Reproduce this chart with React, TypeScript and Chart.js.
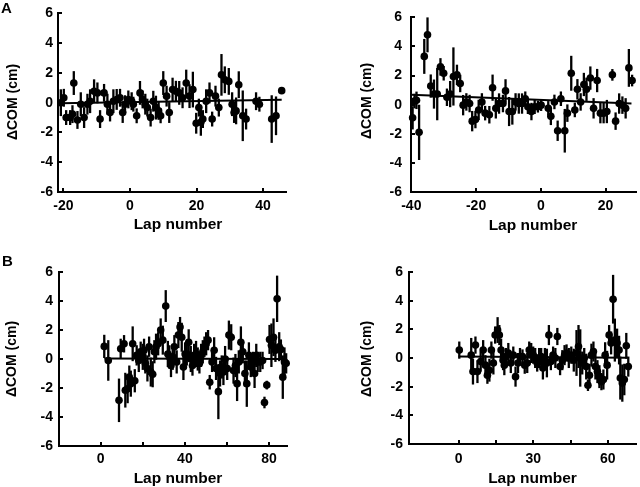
import React, { useEffect, useRef } from 'react';
import { Chart, registerables } from 'chart.js';

Chart.register(...registerables);

const FONT = 'Arial, "Liberation Sans", Helvetica, sans-serif';

// ---------- Panel A (left) ----------
const lapsA1 = [
  -20.8, -19.9, -19.2, -18, -17.3, -16.9, -15.8, -14.8, -13.8, -12.8,
  -12, -10.8, -9.8, -9, -7.8, -6.8, -6, -5, -4, -3,
  -2.2, -1.5, -0.5, 0.5, 1, 2, 3, 3.8, 4.6, 5.2,
  6.2, 7, 7.8, 8.6, 9.2, 10, 11, 11.8, 12.8, 13.8,
  14.8, 15.8, 16.9, 17.9, 18.9, 19.9, 20.7, 21.3, 21.9, 22.9,
  23.9, 24.7, 25.7, 26.7, 27.5, 28.5, 29.7, 30.7, 31.3, 31.9,
  32.7, 33.9, 34.9, 37.9, 38.9, 42.6, 43.9, 45.6,
];
const comA1 = [
  0.0, 0.33, -1.0, -1.0, -0.77, 1.32, -1.16, -0.1, -1.0, -0.1,
  0.1, 0.77, 0.66, -1.1, 0.66, -0.1, -0.66, 0.1, 0.22, 0.33,
  -0.66, -0.1, 0.22, 0.1, -0.1, -0.88, 0.66, 0.22, -0.1, -0.33,
  -1.0, 0.1, -0.33, -0.55, -0.88, 1.32, 0.44, -0.66, 0.88, 0.77,
  0.66, 0.33, 1.32, 0.44, 0.88, -1.38, -0.33, -1.32, -1.1, 0.1,
  0.66, -1.1, 0.44, -0.33, 1.87, 1.54, 1.43, -0.1, -0.66, -0.55,
  1.21, -0.88, -1.1, 0.1, -0.1, -1.1, -0.88, 0.81,
];
const errA1 = [
  0.9, 0.6, 0.5, 0.5, 0.6, 0.8, 0.6, 0.8, 0.7, 0.7,
  0.8, 0.8, 0.7, 0.6, 0.6, 0.7, 0.6, 0.8, 0.7, 0.6,
  0.7, 0.6, 0.6, 0.6, 0.5, 0.5, 0.8, 0.6, 0.7, 0.6,
  0.6, 0.7, 0.8, 0.6, 0.5, 0.8, 0.7, 0.7, 0.8, 0.7,
  0.8, 0.7, 0.9, 0.8, 1.2, 0.7, 0.6, 0.9, 0.6, 0.8,
  0.7, 0.5, 0.7, 0.6, 1.4, 0.9, 0.9, 0.8, 0.7, 0.9,
  0.9, 1.7, 0.7, 0.6, 0.5, 1.6, 1.3, 0,
];
const fitLapsA1 = [-21, 45.6];
const fitComA1 = [-0.03, 0.2];
const xTicksA1 = [-20, 0, 20, 40];

// ---------- Panel A (right) ----------
const lapsA2 = [
  -39.6, -39, -38.4, -37.6, -36, -35, -34, -33, -32, -31,
  -30, -29, -28, -27, -25.9, -24.9, -24, -23, -22, -21.2,
  -20.2, -19.2, -18.2, -17.2, -15.9, -14.9, -13.9, -12.9, -11.7, -10.9,
  -9.8, -8.8, -7.8, -6.8, -5.8, -4.8, -4, -2.9, -1.9, -0.9,
  0.1, 2.3, 3.1, 4.2, 5.2, 6.2, 7.4, 8.2, 9.4, 10.5,
  11.3, 12.3, 13.3, 14.1, 15.3, 16.3, 17.4, 18.4, 19.4, 20.4,
  22.1, 23.1, 24.2, 25.2, 26.2, 27.2, 28.2,
];
const comA2 = [
  -0.9, 0.25, 0.3, -1.9, 3.32, 4.8, 1.28, 0.73, 0.73, 2.6,
  2.16, 0.51, 0.73, 1.94, 2.05, 1.46, -0.03, 0.19, 0.08, -1.13,
  -1.02, -0.36, 0.19, -0.58, -0.69, 1.17, -0.25, 0.08, 0.08, 0.95,
  -0.47, -0.47, 0.19, 0.08, 0.08, 0.41, -0.14, -0.47, -0.14, -0.14,
  -0.03, -0.25, -0.8, 0.19, -1.79, 0.41, -1.79, -0.58, 2.16, -0.36,
  1.06, 0.19, 1.39, 1.06, 1.83, -0.25, 1.66, -0.58, -0.58, -0.47,
  2.05, -1.13, 0.08, -0.03, -0.25, 2.53, 1.66,
];
const errA2 = [
  0.8, 0.5, 0.6, 1.9, 1.2, 1.2, 0.8, 1.0, 1.8, 0.6,
  0.5, 0.6, 0.9, 2.0, 0.7, 0.6, 0.7, 0.6, 0.6, 0.7,
  0.6, 0.7, 0.6, 0.5, 0.6, 0.9, 0.7, 0.7, 0.6, 0.8,
  1.0, 0.9, 0.6, 0.7, 0.7, 0.5, 0.5, 0.6, 0.5, 0.4,
  0.4, 0.5, 0.6, 0.5, 0.7, 0.5, 1.5, 0.6, 1.2, 0.5,
  0.7, 0.6, 0.8, 0.8, 0.8, 0.7, 0.8, 0.7, 0.7, 0.8,
  0.4, 0.6, 0.7, 0.6, 0.7, 1.3, 0.4,
];
const fitLapsA2 = [-40, 28];
const fitComA2 = [0.69, 0.08];
const xTicksA2 = [-40, -20, 0, 20];

// ---------- Panel B (left) ----------
const lapsB1 = [
  1.7, 3.6, 8.7, 9.5, 11.1, 11.7, 12.8, 13.6, 14.3, 15.2,
  16.2, 17.1, 18.1, 19, 20, 20.6, 21.2, 22.2, 23, 23.8,
  24.7, 25.5, 26.3, 27.3, 28.5, 29.5, 30.9, 31.9, 32.6, 33.4,
  34.2, 35, 36.1, 36.9, 37.7, 38.5, 39.3, 40.1, 40.9, 41.8,
  42.8, 43.6, 44.4, 45.3, 46.1, 46.9, 47.7, 48.5, 49.3, 50.1,
  51, 51.8, 52.9, 53.9, 54.8, 55.9, 56.7, 57.5, 58.3, 59.1,
  60.1, 60.9, 62, 63.1, 64, 64.8, 65.6, 66.6, 67.5, 68.5,
  69.4, 70.4, 71.3, 72.3, 73.1, 73.9, 74.6, 75.8, 76.9, 77.8,
  78.9, 80.2, 81.1, 82.1, 83, 83.8, 84.8, 85.6, 86.5, 87.3,
  88.1,
];
const comB1 = [
  0.87, -0.1, -2.85, 0.7, 1.05, -2.15, -2.05, -1.25, -1.7, 1.05,
  -1.5, 0.25, -0.1, 0.5, 0.15, 0.6, -0.3, -0.65, 0.85, -0.9,
  -1.05, 0.5, 0.85, 1.05, 2.0, 1.3, 3.65, 0.35, 0.15, -0.45,
  0.15, 0.85, -0.2, 1.65, 2.2, 1.5, -0.55, 0.35, 0.35, 1.15,
  0, -0.45, 0.25, 0.35, 0, -0.3, 0.25, 0.5, 0.85, 1.05,
  1.3, -1.6, -0.2, 0.6, -0.65, -2.25, -1.0, -0.55, -0.9, 0,
  -0.65, 1.65, 1.5, -0.8, -0.45, -1.7, -0.2, 1.15, 0.5, -1.0,
  -1.7, 0.25, -0.55, -0.2, -1.0, 0.25, -0.2, -0.2, -0.1, -3.0,
  -1.8, 1.35, 0.95, 1.5, 0.6, 4.15, 0.85, 0.65, -1.25, -0.2,
  -0.3,
];
const errB1 = [
  0.8, 1.4, 1.5, 0.7, 0.6, 1.2, 1.0, 0.8, 0.9, 1.2,
  0.8, 0.7, 0.8, 0.7, 0.9, 0.8, 0.7, 0.9, 0.7, 1.0,
  0.9, 0.8, 0.9, 0.8, 0.8, 1.0, 1.1, 0.9, 0.8, 0.8,
  0.9, 0.8, 0.8, 0.9, 0.7, 1.0, 0.9, 0.8, 0.8, 0.9,
  0.9, 0.7, 0.8, 0.9, 0.8, 0.7, 0.8, 0.8, 0.7, 0.8,
  0.7, 0.5, 0.7, 0.9, 0.8, 1.9, 0.9, 0.8, 0.9, 0.9,
  0.8, 1.0, 0.9, 0.9, 0.8, 1.2, 0.8, 1.1, 0.8, 0.9,
  1.6, 0.9, 0.7, 0.7, 1.0, 0.8, 0.7, 0.7, 0.6, 0.4,
  0.3, 1.0, 1.5, 1.3, 0.8, 1.6, 1.0, 0.7, 1.5, 1.0,
  0.7,
];
const fitLapsB1 = [1.7, 88];
const fitComB1 = [0.03, 0.0];
const xTicksB1 = [0, 20, 40, 60, 80];
const xLabelsB1 = [0, 40, 80];

// ---------- Panel B (right) ----------
const lapsB2 = [
  0.3, 5.1, 5.8, 6.8, 7.6, 8.9, 9.9, 10.8, 11.6, 12.4,
  13.2, 14, 14.7, 15.7, 16.4, 17.1, 17.9, 18.4, 19.1, 20,
  21, 22, 22.9, 23.9, 24.7, 25.7, 26.6, 27.6, 28.4, 29.2,
  30, 30.8, 31.6, 32.4, 33.2, 33.9, 34.7, 35.5, 36.3, 37.1,
  38, 38.9, 39.7, 40.8, 41.7, 42.6, 43.4, 44.3, 45.3, 46.3,
  47.4, 48.2, 48.9, 49.7, 50.5, 51.3, 52, 52.6, 53.4, 54.2,
  55, 55.8, 56.6, 57.4, 58.2, 58.9, 59.7, 60.5, 61.3, 62.1,
  62.8, 63.7, 64.5, 65, 65.8, 66.6, 67.4, 68.2,
];
const comB2 = [
  0.55, 0.2, -0.95, 0.9, -0.95, -0.25, 0.55, -0.5, -1.2, -0.85,
  0.55, -0.35, 1.6, 1.95, 1.6, 0.55, -0.15, -0.5, 0.1, 0.35,
  -0.35, 0.2, -1.3, -0.35, 0.1, 0.1, -0.5, -0.35, 0.55, 0.35,
  0.2, 0, -0.35, 0, 0.1, -0.7, 0, -0.35, 1.6, -0.25,
  0.2, 0, 1.5, -0.6, -0.15, 0.2, 0.35, 0, 0.2, -0.15,
  0.35, 0.8, 0, -0.35, 0, -0.6, -1.9, -1.2, 0.2, 0.45,
  -0.6, -0.95, -1.3, -1.65, -1.5, 0.2, -0.5, 1.6, 1.05, 4.1,
  1.25, 1.05, 0.55, -1.4, -1.75, -1.5, 0.85, -0.6,
];
const errB2 = [
  0.6, 1.2, 0.9, 0.6, 0.8, 0.7, 0.7, 0.7, 0.6, 0.8,
  0.6, 0.8, 0.6, 0.9, 0.7, 0.8, 0.7, 0.7, 0.6, 0.7,
  0.7, 0.6, 0.7, 0.7, 0.6, 0.5, 0.6, 0.7, 0.6, 0.7,
  0.6, 0.7, 0.6, 0.7, 0.6, 0.8, 0.7, 1.0, 0.7, 0.6,
  0.6, 0.7, 0.6, 0.6, 0.7, 0.7, 0.6, 0.7, 0.6, 0.8,
  1.6, 1.5, 2.0, 0.8, 0.7, 0.9, 0.4, 0.8, 0.8, 0.7,
  0.9, 0.8, 0.8, 0.6, 0.7, 0.9, 1.0, 0.7, 0.8, 1.7,
  1.5, 1.0, 1.0, 1.5, 1.3, 1.1, 0.9, 0.7,
];
const fitLapsB2 = [0, 68];
const fitComB2 = [0.1, 0.02];
const xTicksB2 = [0, 15, 30, 45, 60];
const xLabelsB2 = [0, 30, 60];

const yTicks = [-6, -4, -2, 0, 2, 4, 6];
const X_TITLE = 'Lap number';
const Y_TITLE = '\u0394COM (cm)';

type PanelDef = {
  laps: number[]; com: number[]; err: number[];
  fitLaps: number[]; fitCom: number[];
  xTicks: number[]; xLabels: number[];
  xMin: number; xMax: number;
  box: { left: number; top: number; w: number; h: number };
  pad: { left: number; right: number; top: number };
  yW: number; xH: number; yTickPad: number; xTickPad: number;
  xTitle: [number, number]; yTitle: [number, number];
};

const PANELS: PanelDef[] = [
  {
    laps: lapsA1, com: comA1, err: errA1, fitLaps: fitLapsA1, fitCom: fitComA1,
    xTicks: xTicksA1, xLabels: xTicksA1, xMin: -21.65, xMax: 46.9,
    box: { left: 0, top: 0, w: 320, h: 240 }, pad: { left: 0, right: 34, top: 11 },
    yW: 58, xH: 48, yTickPad: 5, xTickPad: 6, xTitle: [178, 225], yTitle: [13, 102],
  },
  {
    laps: lapsA2, com: comA2, err: errA2, fitLaps: fitLapsA2, fitCom: fitComA2,
    xTicks: xTicksA2, xLabels: xTicksA2, xMin: -40.1, xMax: 29.4,
    box: { left: 320, top: 0, w: 320, h: 240 }, pad: { left: 0, right: 0, top: 10 },
    yW: 91, xH: 48, yTickPad: 9, xTickPad: 6, xTitle: [213, 225.5], yTitle: [47, 101],
  },
  {
    laps: lapsB1, com: comB1, err: errB1, fitLaps: fitLapsB1, fitCom: fitComB1,
    xTicks: xTicksB1, xLabels: xLabelsB1, xMin: -19.8, xMax: 88.5,
    box: { left: 0, top: 240, w: 320, h: 247 }, pad: { left: 0, right: 33, top: 32 },
    yW: 59, xH: 41, yTickPad: 6, xTickPad: 5, xTitle: [178, 239], yTitle: [12, 119],
  },
  {
    laps: lapsB2, com: comB2, err: errB2, fitLaps: fitLapsB2, fitCom: fitComB2,
    xTicks: xTicksB2, xLabels: xLabelsB2, xMin: -19.9, xMax: 71.3,
    box: { left: 320, top: 240, w: 320, h: 247 }, pad: { left: 0, right: 0, top: 32 },
    yW: 89, xH: 43, yTickPad: 6, xTickPad: 7, xTitle: [212.5, 239], yTitle: [47.5, 119],
  },
];

const errorBarPlugin = {
  id: 'errorBars',
  beforeDatasetsDraw(chart: any, _args: any, opts: any) {
    const { ctx, scales } = chart;
    const xs = scales.x, ys = scales.y;
    const errs: number[] = opts.errors || [];
    const pts = chart.data.datasets[0].data;
    ctx.save();
    ctx.strokeStyle = '#000';
    ctx.lineWidth = 2.3;
    pts.forEach((p: any, i: number) => {
      const e = errs[i];
      if (!e) return;
      const px = xs.getPixelForValue(p.x);
      ctx.beginPath();
      ctx.moveTo(px, ys.getPixelForValue(p.y - e));
      ctx.lineTo(px, ys.getPixelForValue(p.y + e));
      ctx.stroke();
    });
    ctx.restore();
  },
};

const decorPlugin = {
  id: 'decor',
  afterDraw(chart: any, _args: any, opts: any) {
    const { ctx, scales, chartArea } = chart;
    ctx.save();
    ctx.strokeStyle = '#000';
    ctx.lineWidth = 2;
    // inward tick marks
    scales.x.ticks.forEach((t: any) => {
      const px = Math.round(scales.x.getPixelForValue(t.value));
      ctx.beginPath();
      ctx.moveTo(px, chartArea.bottom);
      ctx.lineTo(px, chartArea.bottom - 4);
      ctx.stroke();
    });
    scales.y.ticks.forEach((t: any) => {
      const py = Math.round(scales.y.getPixelForValue(t.value));
      ctx.beginPath();
      ctx.moveTo(chartArea.left, py);
      ctx.lineTo(chartArea.left + 4, py);
      ctx.stroke();
    });
    // axis titles
    ctx.fillStyle = '#000';
    ctx.textAlign = 'center';
    ctx.textBaseline = 'middle';
    ctx.font = `bold 15.5px ${FONT}`;
    ctx.fillText(opts.xText, opts.xTitle[0], opts.xTitle[1]);
    ctx.font = `bold 14px ${FONT}`;
    ctx.translate(opts.yTitle[0], opts.yTitle[1]);
    ctx.rotate(-Math.PI / 2);
    ctx.fillText(opts.yText, 0, 0);
    ctx.restore();
  },
};

function Panel({ def }: { def: PanelDef }) {
  const ref = useRef<HTMLCanvasElement | null>(null);
  useEffect(() => {
    if (!ref.current) return;
    const tickFont = { family: FONT, size: 14, weight: 'bold' as const };
    const chart = new Chart(ref.current, {
      type: 'scatter',
      data: {
        datasets: [
          {
            data: def.laps.map((l, i) => ({ x: l, y: def.com[i] })),
            pointRadius: 3.8,
            pointBackgroundColor: '#000',
            pointBorderColor: '#000',
            pointBorderWidth: 0,
            clip: false as any,
          },
          {
            type: 'line' as any,
            data: def.fitLaps.map((l, i) => ({ x: l, y: def.fitCom[i] })),
            borderColor: '#000',
            borderWidth: 2,
            pointRadius: 0,
            showLine: true,
            fill: false,
            clip: false as any,
          } as any,
        ],
      },
      options: {
        animation: false,
        responsive: false,
        maintainAspectRatio: false,
        events: [],
        layout: { padding: { left: def.pad.left, right: def.pad.right, top: def.pad.top, bottom: 0 } },
        plugins: {
          legend: { display: false },
          tooltip: { enabled: false },
          errorBars: { errors: def.err },
          decor: { xText: X_TITLE, yText: Y_TITLE, xTitle: def.xTitle, yTitle: def.yTitle },
        } as any,
        scales: {
          x: {
            type: 'linear',
            min: def.xMin,
            max: def.xMax,
            afterBuildTicks: (s: any) => { s.ticks = def.xTicks.map((v) => ({ value: v })); },
            afterFit: (s: any) => { s.height = def.xH; },
            grid: { display: false, drawTicks: false },
            border: { display: true, color: '#000', width: 2 },
            ticks: {
              font: tickFont, color: '#000', padding: def.xTickPad, maxRotation: 0, autoSkip: false,
              callback: (v: any) => (def.xLabels.includes(Number(v)) ? String(v) : ''),
            },
          },
          y: {
            type: 'linear',
            min: -6,
            max: 6,
            afterBuildTicks: (s: any) => { s.ticks = yTicks.map((v) => ({ value: v })); },
            afterFit: (s: any) => { s.width = def.yW; },
            grid: { display: false, drawTicks: false },
            border: { display: true, color: '#000', width: 2 },
            ticks: { font: tickFont, color: '#000', padding: def.yTickPad, autoSkip: false },
          },
        },
      },
      plugins: [errorBarPlugin, decorPlugin],
    } as any);
    return () => chart.destroy();
  }, [def]);
  return (
    <canvas
      ref={ref}
      width={def.box.w}
      height={def.box.h}
      style={{ position: 'absolute', left: def.box.left, top: def.box.top, width: def.box.w, height: def.box.h }}
    />
  );
}

export default function App() {
  const letter: React.CSSProperties = {
    position: 'absolute', fontFamily: FONT, fontWeight: 'bold', fontSize: 15, lineHeight: '17px', color: '#000',
  };
  return (
    <div style={{ position: 'fixed', left: 0, top: 0, width: 640, height: 487, overflow: 'hidden', background: '#fff' }}>
      {PANELS.map((p, i) => <Panel key={i} def={p} />)}
      <div style={{ ...letter, left: 1, top: -1 }}>A</div>
      <div style={{ ...letter, left: 2, top: 252 }}>B</div>
    </div>
  );
}
